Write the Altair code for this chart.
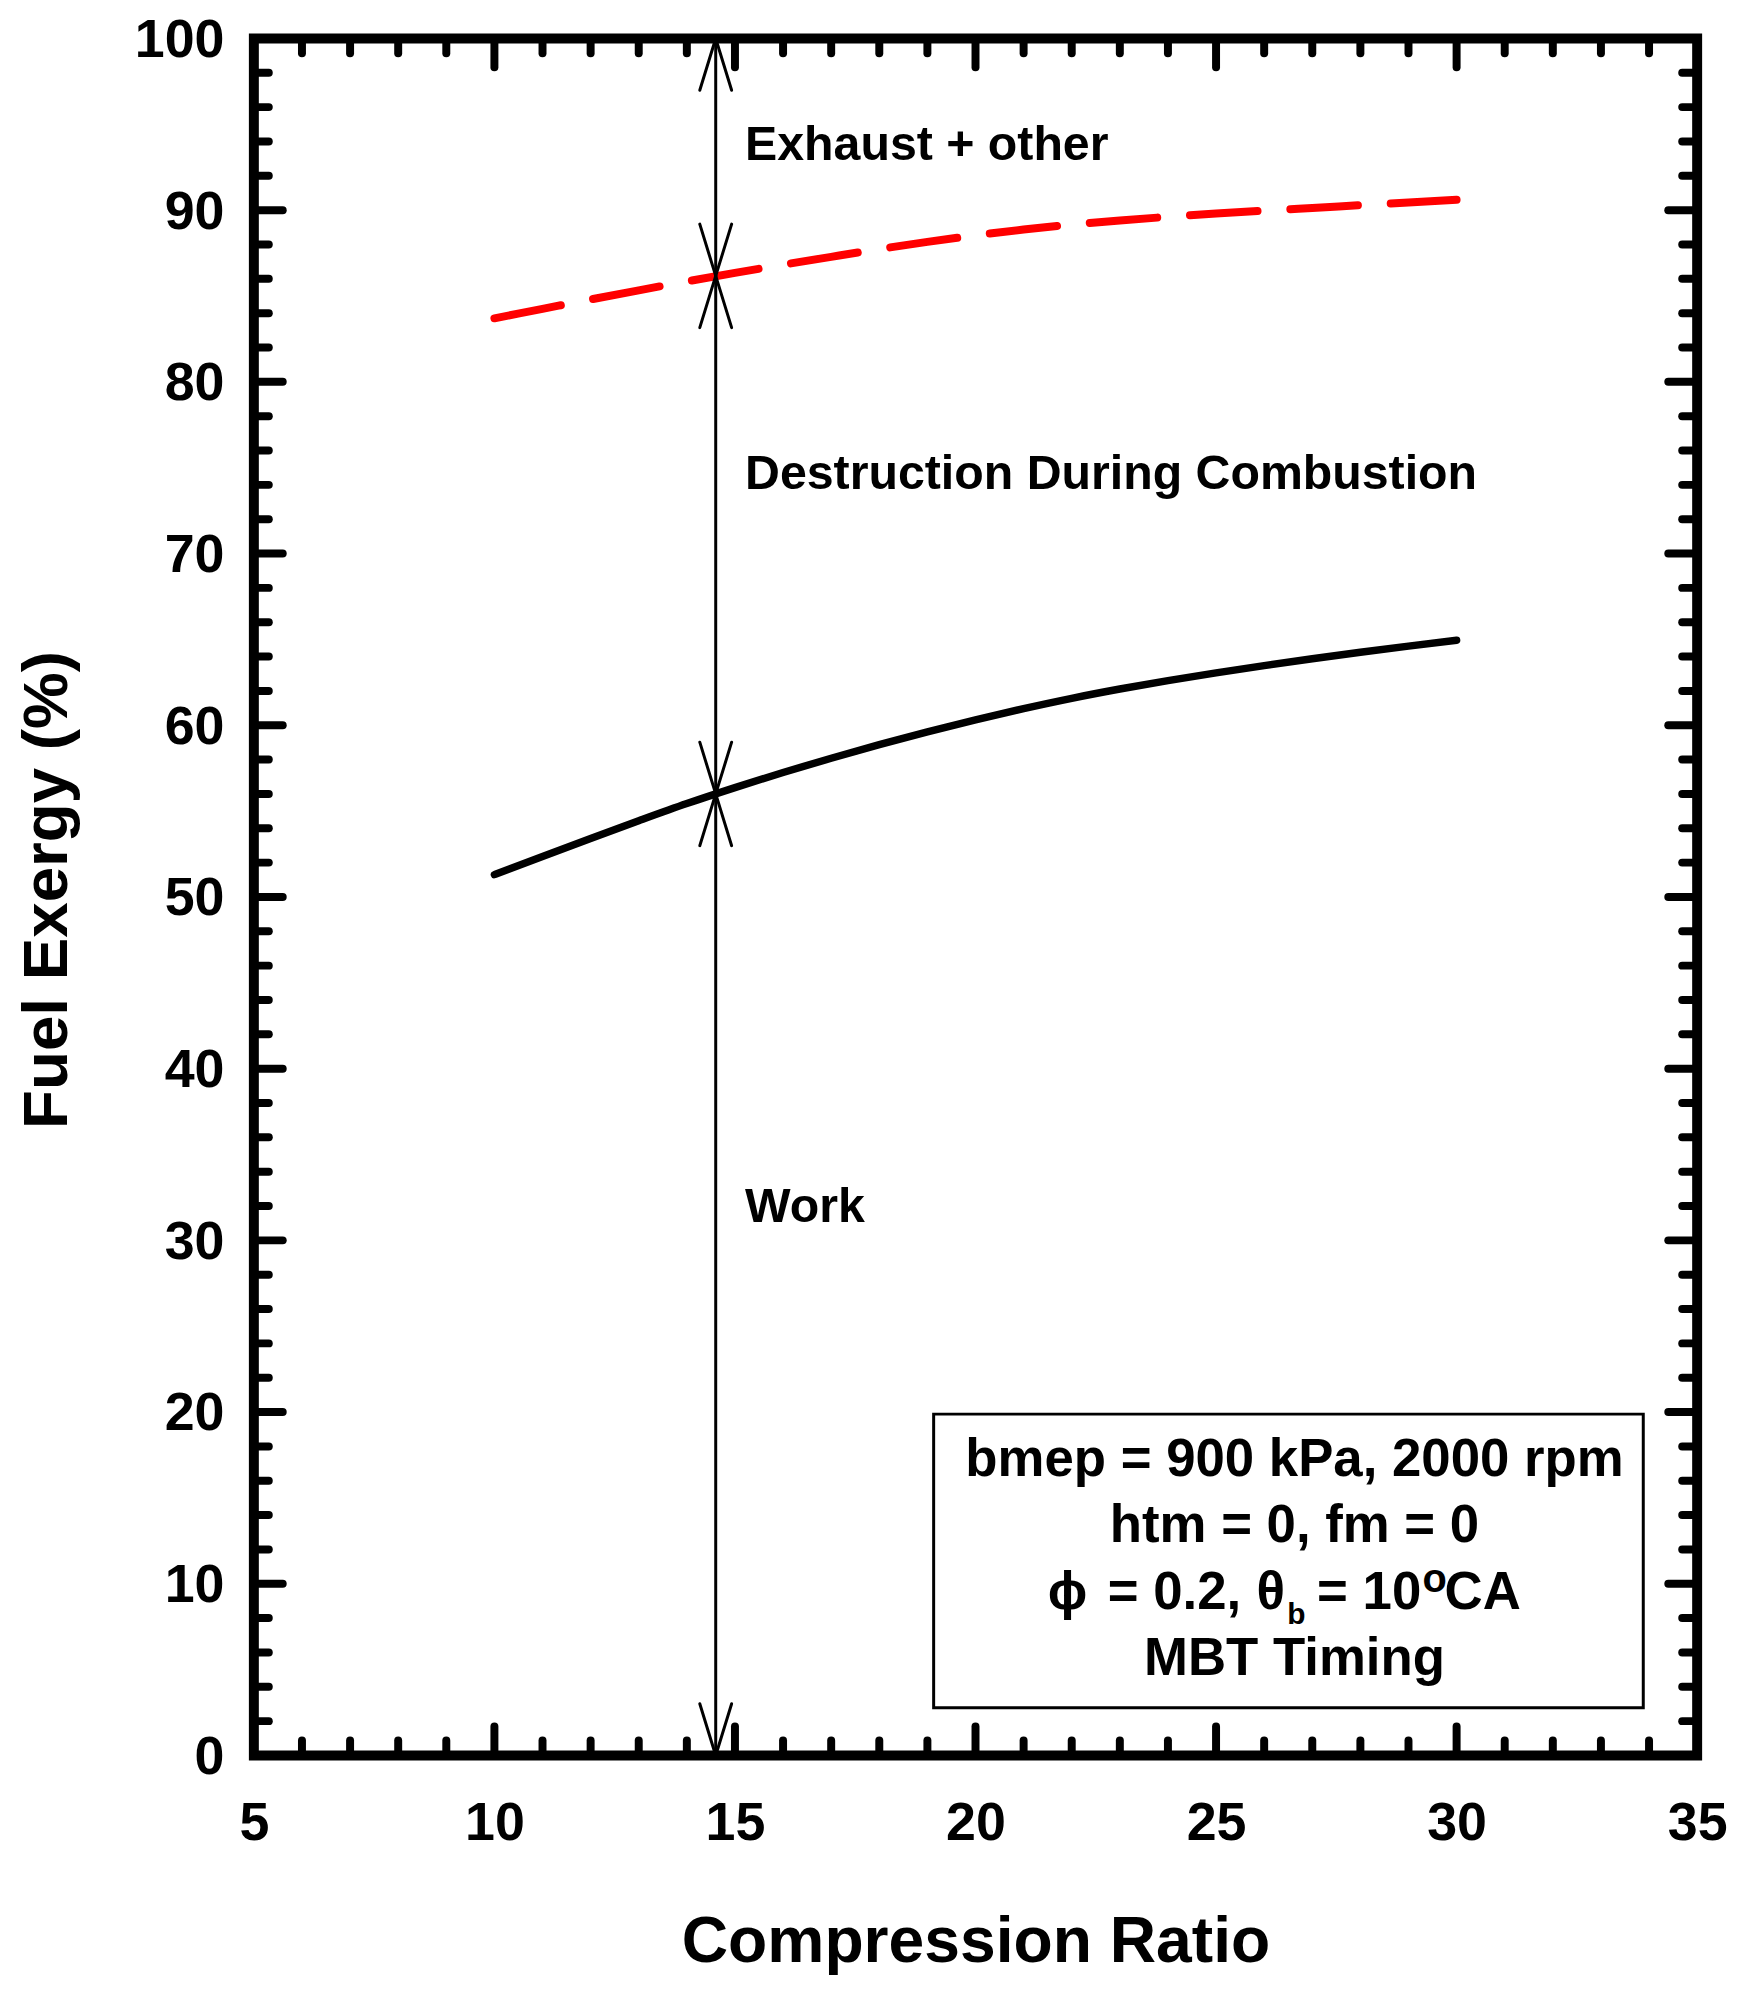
import altair as alt
import pandas as pd

# ---------------- data ----------------
compression_ratio = [10, 11, 12, 13, 14, 15, 16, 17, 18, 19, 20,
                     21, 22, 23, 24, 25, 26, 27, 28, 29, 30]
work_pct = [51.3, 52.36, 53.41, 54.44, 55.44, 56.37, 57.25, 58.08, 58.87, 59.62, 60.32,
            60.97, 61.57, 62.11, 62.6, 63.05, 63.47, 63.87, 64.25, 64.61, 64.95]
work_plus_destruction_pct = [83.7, 84.25, 84.8, 85.33, 85.85, 86.35, 86.82, 87.28, 87.73, 88.15, 88.53,
                             88.87, 89.16, 89.4, 89.61, 89.8, 89.97, 90.13, 90.29, 90.45, 90.6]

x_tick_labels = [5, 10, 15, 20, 25, 30, 35]
y_tick_labels = [0, 10, 20, 30, 40, 50, 60, 70, 80, 90, 100]
x_minor_step = 1
y_minor_step = 2

arrow_x = 14.6
arrow_levels = [0, 56.0, 86.17, 100]

region_labels = ["Exhaust + other", "Destruction During Combustion", "Work"]
region_label_x = [15.21, 15.21, 15.21]
region_label_y = [92.9, 73.76, 31.07]

box_corners = {"x": 19.13, "x2": 33.88, "y": 2.78, "y2": 19.88}
box_lines = ["bmep = 900 kPa, 2000 rpm", "htm = 0, fm = 0", "MBT Timing"]
box_line_x = [26.63, 26.63, 26.63]
box_line_y = [16.29, 12.41, 4.7]

# third line of the box, split into pieces for the sub/superscripts
l3_text = ["\u03d5", "= 0.2,", "\u03b8", "b", "= 10", "o", "CA"]
l3_x = [21.5, 22.75, 25.84, 26.48, 27.1, 29.29, 29.75]
l3_y = [8.52, 8.52, 8.52, 7.65, 8.52, 9.5, 8.52]
l3_size = [53, 53, 53, 30, 53, 40, 53]

# ---------------- layout ----------------
W, H = 1450, 1725
XMIN, XMAX, YMIN, YMAX = 5, 35, 0, 100
ux = W / (XMAX - XMIN)   # px per x unit
uy = H / (YMAX - YMIN)   # px per y unit
FONT = "Liberation Sans"

xs = alt.Scale(domain=[XMIN, XMAX], nice=False, zero=False)
ys = alt.Scale(domain=[YMIN, YMAX], nice=False, zero=False)

# ---------------- tables ----------------
curves = pd.DataFrame({"cr": compression_ratio, "work": work_pct,
                       "wd": work_plus_destruction_pct})

MINOR_PX, MAJOR_PX = 15, 29
tick_rows = []
xv = XMIN
while xv <= XMAX:
    if XMIN < xv < XMAX:
        L = (MAJOR_PX if xv in x_tick_labels else MINOR_PX) / uy
        tick_rows.append(dict(x=xv, x2=xv, y=YMIN, y2=YMIN + L))
        tick_rows.append(dict(x=xv, x2=xv, y=YMAX, y2=YMAX - L))
    xv += x_minor_step
yv = YMIN
while yv <= YMAX:
    if YMIN < yv < YMAX:
        L = (MAJOR_PX if yv in y_tick_labels else MINOR_PX) / ux
        tick_rows.append(dict(x=XMIN, x2=XMIN + L, y=yv, y2=yv))
        tick_rows.append(dict(x=XMAX, x2=XMAX - L, y=yv, y2=yv))
    yv += y_minor_step
ticks = pd.DataFrame(tick_rows)

hx, hy = 16 / ux, 52 / uy
seg_rows = [dict(x=arrow_x, x2=arrow_x, y=arrow_levels[0], y2=arrow_levels[-1])]
for lo, hi in zip(arrow_levels[:-1], arrow_levels[1:]):
    for s in (-1, 1):
        seg_rows.append(dict(x=arrow_x, x2=arrow_x + s * hx, y=lo, y2=lo + hy))
        seg_rows.append(dict(x=arrow_x, x2=arrow_x + s * hx, y=hi, y2=hi - hy))
segs = pd.DataFrame(seg_rows)

regions = pd.DataFrame({"x": region_label_x, "y": region_label_y, "t": region_labels})
boxtxt = pd.DataFrame({"x": box_line_x, "y": box_line_y, "t": box_lines})
l3 = pd.DataFrame({"x": l3_x, "y": l3_y, "t": l3_text, "s": l3_size})

# ---------------- axes ----------------
x_axis = alt.Axis(values=x_tick_labels, format="d", title="Compression Ratio",
                  labelFontSize=54, labelFontWeight="bold", labelColor="black",
                  labelFont=FONT, titleFont=FONT,
                  labelPadding=41, labelFlush=False, ticks=False, tickSize=0,
                  domain=False, grid=False,
                  titleFontSize=64.5, titleFontWeight="bold", titleColor="black",
                  titleX=W / 2, titleY=207, titleBaseline="alphabetic")
y_axis = alt.Axis(values=y_tick_labels, format="d", title="Fuel Exergy (%)",
                  labelFontSize=54, labelFontWeight="bold", labelColor="black",
                  labelFont=FONT, titleFont=FONT,
                  labelPadding=30, labelOffset=2, ticks=False, tickSize=0,
                  domain=False, grid=False,
                  titleFontSize=64, titleFontWeight="bold", titleColor="black",
                  titleAngle=270, titleX=-188, titleY=855,
                  titleBaseline="alphabetic", titleAlign="center")


def X(f):
    return alt.X(f, scale=xs, axis=x_axis)


def Y(f):
    return alt.Y(f, scale=ys, axis=y_axis)


# ---------------- layers ----------------
work_line = alt.Chart(curves).mark_line(
    color="black", strokeWidth=7.5, strokeCap="round", interpolate="monotone"
).encode(x=X("cr:Q"), y=Y("work:Q"))

wd_line = alt.Chart(curves).mark_line(
    color="#ff0000", strokeWidth=8, strokeCap="round", strokeDash=[68, 33],
    interpolate="monotone"
).encode(x=X("cr:Q"), y=Y("wd:Q"))

tick_layer = alt.Chart(ticks).mark_rule(
    color="black", strokeWidth=8, strokeCap="round"
).encode(x=X("x:Q"), x2="x2:Q", y=Y("y:Q"), y2="y2:Q")

arrow_layer = alt.Chart(segs).mark_rule(
    color="black", strokeWidth=3, strokeCap="round"
).encode(x=X("x:Q"), x2="x2:Q", y=Y("y:Q"), y2="y2:Q")

region_text = alt.Chart(regions).mark_text(
    align="left", baseline="alphabetic", font=FONT, fontSize=48.5,
    fontWeight="bold", color="black"
).encode(x=X("x:Q"), y=Y("y:Q"), text="t:N")

box = alt.Chart(pd.DataFrame([box_corners])).mark_rect(
    filled=False, color="black", strokeWidth=3
).encode(x=X("x:Q"), x2="x2:Q", y=Y("y:Q"), y2="y2:Q")

box_text = alt.Chart(boxtxt).mark_text(
    align="center", baseline="alphabetic", font=FONT, fontSize=53,
    fontWeight="bold", color="black"
).encode(x=X("x:Q"), y=Y("y:Q"), text="t:N")

l3_layers = []
for size in sorted(set(l3_size)):
    part = l3[l3["s"] == size]
    l3_layers.append(alt.Chart(part).mark_text(
        align="left", baseline="alphabetic", font=FONT, fontSize=size,
        fontWeight="bold", color="black"
    ).encode(x=X("x:Q"), y=Y("y:Q"), text="t:N"))

chart = alt.layer(
    work_line, wd_line, tick_layer, arrow_layer, region_text,
    box, box_text, *l3_layers
).properties(
    width=W, height=H,
    padding={"left": 247, "top": 26, "right": 33, "bottom": 223},
    autosize=alt.AutoSizeParams(type="none"),
    background="white",
).configure(
    font=FONT
).configure_view(
    stroke="black", strokeWidth=10
)

chart.save("out.html", embed_options={"renderer": "svg", "actions": False})
